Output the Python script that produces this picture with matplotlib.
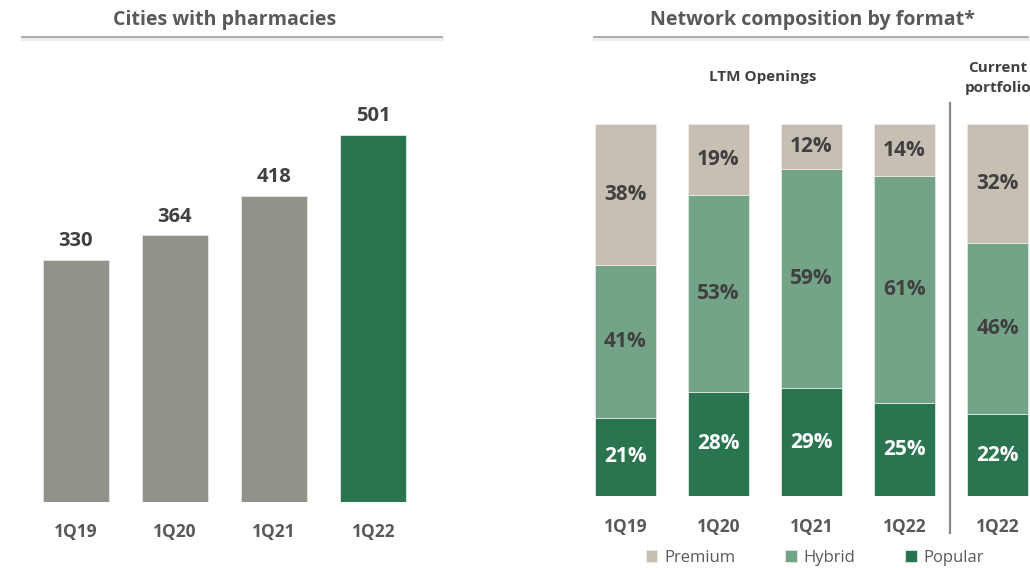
import matplotlib
matplotlib.use("Agg")
import matplotlib.pyplot as plt
from matplotlib.lines import Line2D

plt.rcParams['font.family'] = ['Open Sans', 'DejaVu Sans']

# ---- data ----
cities_cats = ["1Q19", "1Q20", "1Q21", "1Q22"]
cities_vals = [330, 364, 418, 501]

net_cats = ["1Q19", "1Q20", "1Q21", "1Q22", "1Q22"]
popular = [21, 28, 29, 25, 22]
hybrid = [41, 53, 59, 61, 46]
premium = [38, 19, 12, 14, 32]
series_names = ["Premium", "Hybrid", "Popular"]

W, H = 1030, 568
fig = plt.figure(figsize=(W / 100, H / 100), dpi=100)

def ax_px(x0, y0, x1, y1):
    return fig.add_axes([x0 / W, 1 - y1 / H, (x1 - x0) / W, (y1 - y0) / H])

def fx(x):
    return x / W

def fy(y):
    return 1 - y / H

GRAY_TXT = "#595959"
DARK_TXT = "#404040"
C_GRAY = "#93928a"
C_GREEN = "#2a7550"
C_HYB = "#74a488"
C_PREM = "#c8bfb4"

def title(text, xc, x0, x1):
    fig.text(fx(xc), fy(20), text, ha="center", va="center", fontsize=14.1,
             fontweight="bold", color=GRAY_TXT)
    fig.add_artist(Line2D([fx(x0), fx(x1)], [fy(38.5), fy(38.5)], color="#eeeeee", lw=2.5))
    fig.add_artist(Line2D([fx(x0), fx(x1)], [fy(36.5), fy(36.5)], color="#a6a6a6", lw=1.3))

title("Cities with pharmacies", 225, 22, 442)
title("Network composition by format*", 812, 594, 1028)

# ---- left chart ----
axL = ax_px(26, 135, 423, 502)
xs = list(range(len(cities_cats)))
colors = [C_GRAY, C_GRAY, C_GRAY, C_GREEN]
axL.bar(xs, cities_vals, width=0.665, color=colors, edgecolor="#e6e6e6", linewidth=0.6)
axL.set_xlim(-0.5, 3.5)
axL.set_ylim(0, 501)
for x, v in zip(xs, cities_vals):
    axL.text(x, v + 12, f"{v}", ha="center", va="bottom", fontsize=14.5,
             fontweight="bold", color=DARK_TXT, clip_on=False)
axL.set_xticks(xs)
axL.set_xticklabels(cities_cats, fontsize=12.5, fontweight="bold", color=GRAY_TXT)
axL.tick_params(axis="x", length=0, pad=15)
axL.set_yticks([])
for s in axL.spines.values():
    s.set_visible(False)

# ---- right chart ----
axR = ax_px(579, 124, 1044, 496)
xr = list(range(len(net_cats)))
b1 = axR.bar(xr, popular, width=0.665, color=C_GREEN, edgecolor="#dfe9e3", linewidth=0.6, label="Popular")
b2 = axR.bar(xr, hybrid, width=0.665, bottom=popular, color=C_HYB, edgecolor="#dfe9e3", linewidth=0.6, label="Hybrid")
bot2 = [p + h for p, h in zip(popular, hybrid)]
b3 = axR.bar(xr, premium, width=0.665, bottom=bot2, color=C_PREM, edgecolor="#eeeae6", linewidth=0.6, label="Premium")
axR.set_xlim(-0.5, 4.5)
axR.set_ylim(0, 100)
for i in xr:
    axR.text(i, popular[i] / 2, f"{popular[i]}%", ha="center", va="center",
             fontsize=15, fontweight="bold", color="white")
    axR.text(i, popular[i] + hybrid[i] / 2, f"{hybrid[i]}%", ha="center", va="center",
             fontsize=15, fontweight="bold", color=DARK_TXT)
    axR.text(i, bot2[i] + premium[i] / 2, f"{premium[i]}%", ha="center", va="center",
             fontsize=15, fontweight="bold", color=DARK_TXT)
axR.set_xticks(xr)
axR.set_xticklabels(net_cats, fontsize=12.5, fontweight="bold", color=GRAY_TXT)
axR.tick_params(axis="x", length=0, pad=16)
axR.set_yticks([])
for s in axR.spines.values():
    s.set_visible(False)

fig.add_artist(Line2D([fx(950), fx(950)], [fy(103), fy(533)], color="#8c8a84", lw=1.6))

fig.text(fx(763), fy(77), "LTM Openings", ha="center", va="center", fontsize=11,
         fontweight="bold", color=DARK_TXT)
fig.text(fx(998), fy(78), "Current\nportfolio", ha="center", va="center", fontsize=11,
         fontweight="bold", color=DARK_TXT, linespacing=1.5)

leg = fig.legend(handles=[b3, b2, b1], labels=series_names, loc="center",
                 bbox_to_anchor=(fx(815), fy(558)), ncol=3, frameon=False,
                 fontsize=12, handlelength=0.7, handleheight=0.7, columnspacing=3.0,
                 handletextpad=0.4, borderpad=0.2)
for t in leg.get_texts():
    t.set_color(GRAY_TXT)

fig.savefig("out.png", dpi=100)
